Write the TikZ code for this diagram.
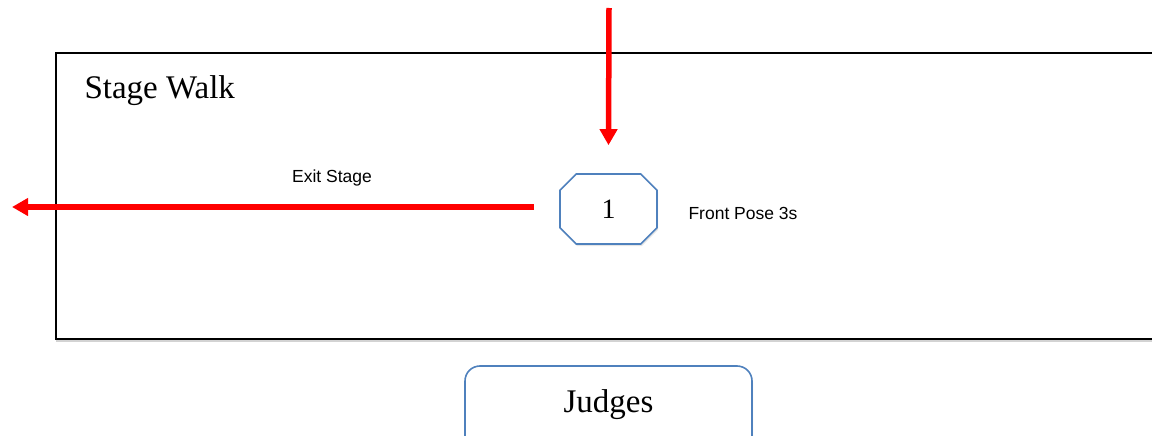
\documentclass[tikz,border=0pt]{standalone}
\usepackage{fontspec}
\setmainfont{Liberation Serif}
\newfontfamily\labelfont{Liberation Sans}
\usetikzlibrary{arrows.meta,shapes.misc,shadows}
\definecolor{boxblue}{RGB}{79,129,189}
\definecolor{walkred}{RGB}{255,0,0}
\begin{document}
\begin{tikzpicture}[x=1pt,y=-1pt]
        \tikzstyle{stage}=[draw=black,line width=2pt,fill=white,drop shadow={shadow xshift=0pt,shadow yshift=-3pt,opacity=0.35}]
        \tikzstyle{pose}=[chamfered rectangle,chamfered rectangle xsep=23pt,chamfered rectangle ysep=19pt,draw=boxblue,line width=1.6pt,fill=white,minimum width=97pt,minimum height=70pt,inner sep=0pt,font=\fontsize{28}{30}\selectfont,drop shadow={opacity=0.2,shadow xshift=1pt,shadow yshift=-2pt}]
        \tikzstyle{judge}=[rounded corners=15pt,draw=boxblue,line width=1.6pt,fill=white,minimum width=287pt,minimum height=90pt,inner sep=0pt,drop shadow={opacity=0.2,shadow xshift=1pt,shadow yshift=-2pt}]
        \tikzstyle{note}=[font=\labelfont\fontsize{17.5}{20}\selectfont]
        \tikzstyle{big}=[font=\fontsize{33}{36}\selectfont]
        \tikzstyle{walk}=[draw=walkred,line width=5.5pt,-{Triangle[length=16pt,width=17pt]}]
        \useasboundingbox (0,0) rectangle (1152,436);
        \clip (0,0) rectangle (1152,436);
       \begin{scope}
         \path[stage] (56,53) rectangle (1175,339);
         \node [big,anchor=west] (title) at (81,91) {Stage Walk};
         \node [pose] (p1) at (608.5,209) {\raisebox{-4pt}{1}};
         \node [note,anchor=west] (front) at (685,213) {Front Pose 3s};
         \node [note] (exit) at (332,178) {Exit Stage};
         \node [judge] (judges) at (608.5,411) {};
         \node [big] (jtext) at (608.5,405) {Judges};
         \coordinate (top) at (609,8);
         \coordinate (out) at (12,207);
         \path[walk] (top) -- ([yshift=28pt]p1.north);
         \path[walk] ([xshift=-25pt,yshift=2pt]p1.west) -- (out);
        \end{scope}
      \end{tikzpicture}
\end{document}
